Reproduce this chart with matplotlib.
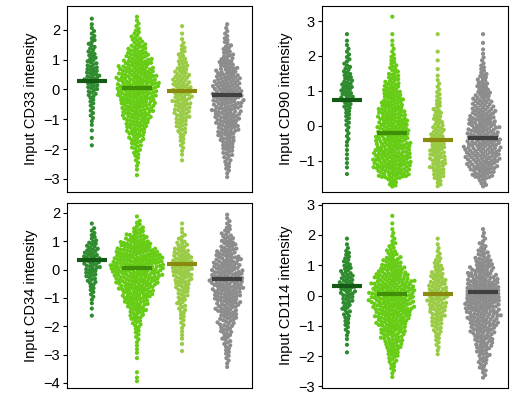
import numpy as np
import matplotlib
matplotlib.use("Agg")
import matplotlib.pyplot as plt

plt.rcParams['font.family'] = ['Liberation Sans', 'DejaVu Sans']

# bins start at -4.0, step 0.25 (29 bins); counts per group
BIN_START = -4.0
BIN_W = 0.25
def c(d):
    a = [0]*29
    for k, v in d.items(): a[k] = v
    return a

cd33 = [c({8:1,9:1,10:1,11:2,12:3,13:3,14:4,15:6,16:8,17:10,18:9,19:7,20:6,21:5,22:4,23:3,24:2,25:1}),
        c({4:1,5:2,6:3,7:5,8:7,9:10,10:13,11:16,12:20,13:22,14:25,15:27,16:28,17:27,18:24,19:20,20:16,21:12,22:8,23:5,24:3,25:2}),
        c({6:1,7:2,8:3,9:4,10:6,11:8,12:10,13:11,14:12,15:12,16:12,17:11,18:9,19:7,20:5,21:4,22:2,23:1,24:1}),
        c({4:2,5:4,6:5,7:7,8:9,9:11,10:14,11:16,12:18,13:19,14:20,15:20,16:19,17:17,18:14,19:11,20:8,21:6,22:4,23:3,24:2})]
cd90 = [c({10:1,11:2,12:2,13:2,14:3,15:3,16:4,17:5,18:7,19:10,20:10,21:8,22:6,23:4,24:3,25:2,26:1}),
        c({9:8,10:25,11:30,12:30,13:28,14:27,15:26,16:24,17:22,18:19,19:16,20:13,21:10,22:7,23:5,24:3,25:2,26:1,28:1}),
        c({9:5,10:10,11:12,12:13,13:13,14:12,15:10,16:8,17:7,18:5,19:4,20:3,21:2,22:1,23:1,24:1,26:1}),
        c({9:6,10:18,11:24,12:26,13:27,14:26,15:24,16:22,17:19,18:16,19:13,20:10,21:8,22:5,23:3,24:2,25:1,26:1})]
cd34 = [c({9:1,10:1,11:2,12:3,13:4,14:6,15:8,16:10,17:11,18:9,19:7,20:4,21:3,22:1}),
        c({0:2,1:1,3:1,4:2,5:2,6:3,7:4,8:6,9:9,10:12,11:16,12:20,13:24,14:28,15:32,16:34,17:33,18:28,19:22,20:14,21:8,22:4,23:1}),
        c({4:1,5:1,6:2,7:2,8:3,9:4,10:5,11:6,12:7,13:9,14:11,15:13,16:14,17:13,18:10,19:7,20:4,21:2,22:1}),
        c({2:2,3:3,4:4,5:5,6:6,7:8,8:10,9:12,10:14,11:16,12:18,13:20,14:21,15:20,16:18,17:16,18:13,19:10,20:8,21:5,22:3,23:2})]
cd114 = [c({8:1,9:1,10:2,11:3,12:4,13:5,14:6,15:8,16:10,17:10,18:9,19:7,20:5,21:4,22:2,23:1}),
         c({5:2,6:4,7:6,8:9,9:12,10:15,11:18,12:22,13:25,14:28,15:30,16:30,17:28,18:24,19:18,20:13,21:8,22:5,23:3,24:2,25:1,26:1}),
         c({8:2,9:3,10:4,11:6,12:8,13:10,14:12,15:13,16:13,17:12,18:10,19:7,20:5,21:3,22:2,23:1}),
         c({5:3,6:5,7:7,8:9,9:12,10:14,11:17,12:20,13:22,14:24,15:25,16:25,17:23,18:20,19:16,20:12,21:8,22:5,23:3,24:2})]

medians = {"CD33": [0.3, 0.05, -0.05, -0.2], "CD90": [0.75, -0.2, -0.4, -0.35],
           "CD34": [0.35, 0.05, 0.2, -0.35], "CD114": [0.3, 0.05, 0.05, 0.1]}
ylims = {"CD33": (-3.44, 2.8), "CD90": (-1.89, 3.43), "CD34": (-4.18, 2.35), "CD114": (-3.05, 3.05)}
yticks = {"CD33": range(-3, 3), "CD90": range(-1, 4), "CD34": range(-4, 3), "CD114": range(-3, 4)}
colors = ["#2e8b2e", "#66cc14", "#99cc44", "#8c8c8c"]
mcolors = ["#145a14", "#3f8f08", "#8a8a10", "#404040"]
xpos = [1, 2, 3, 4]

W, H = 519, 401
fig = plt.figure(figsize=(W/100, H/100), dpi=100)
panels = [("CD33", cd33, (67, 6, 185, 186)), ("CD90", cd90, (322, 6, 186, 186)),
          ("CD34", cd34, (67, 203, 185, 185)), ("CD114", cd114, (322, 203, 186, 185))]

def values(counts):
    v = []
    for i, n in enumerate(counts):
        lo = BIN_START + i*BIN_W
        for k in range(n):
            v.append(lo + (k + 0.5)/n*BIN_W)
    return np.array(v)

def swarm(vals, ypx, d):
    order = np.argsort(vals)
    placed = []
    xs = np.zeros(len(vals))
    for idx in order:
        y = vals[idx]*ypx
        near = [(px, py) for px, py in placed if abs(py - y) < d]
        cands = [0.0]
        for px, py in near:
            dx = np.sqrt(max(d*d - (py - y)**2, 0))
            cands += [px + dx + 1e-3, px - dx - 1e-3]
        cands.sort(key=abs)
        for cx in cands:
            if all((cx - px)**2 + (y - py)**2 >= d*d - 1e-6 for px, py in near):
                break
        placed.append((cx, y))
        xs[idx] = cx
    return xs

for name, data, (l, t, w, h) in panels:
    ax = fig.add_axes([l/W, 1 - (t+h)/H, w/W, h/H])
    y0, y1 = ylims[name]
    ypx = h/(y1 - y0)
    xlim = (0.45, 4.55)
    xpx = w/(xlim[1] - xlim[0])
    d = 3.3
    for g in range(4):
        v = values(data[g])
        xo = swarm(v, ypx, d)/xpx
        ax.scatter(xpos[g] + xo, v, s=9, color=colors[g], edgecolors="none")
        ax.plot([xpos[g]-0.33, xpos[g]+0.33], [medians[name][g]]*2, color=mcolors[g], lw=3, solid_capstyle="butt")
    ax.set_xlim(*xlim)
    ax.set_ylim(y0, y1)
    ax.set_xticks([])
    ax.set_yticks(list(yticks[name]))
    ax.set_yticklabels([str(v).replace('-', '\u2212') for v in yticks[name]])
    ax.tick_params(axis="y", labelsize=10.5, length=3, pad=2)
    ax.set_ylabel(f"Input {name} intensity", fontsize=10.5, labelpad=4)

fig.savefig("out.png", dpi=100)
